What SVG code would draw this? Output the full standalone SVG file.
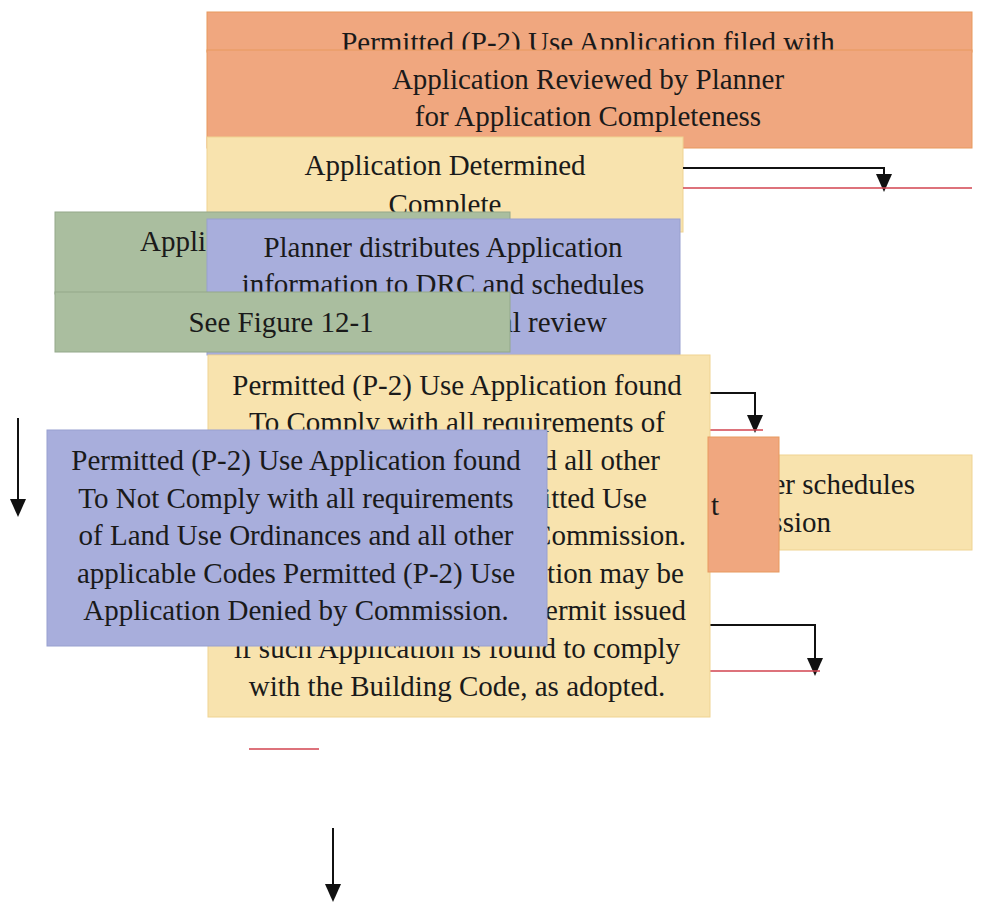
<svg xmlns="http://www.w3.org/2000/svg" width="981" height="909" viewBox="0 0 981 909">
<defs>
<marker id="ah" markerWidth="18" markerHeight="16" refX="15" refY="8" orient="auto" markerUnits="userSpaceOnUse" viewBox="0 0 18 16">
<path d="M0,0 L18,8 L0,16 Z" fill="#111"/>
</marker>
<style>
.t{font-family:"Liberation Serif","Times New Roman",serif;font-size:29px;fill:#1a1a1a}
.m{text-anchor:middle}
.e{text-anchor:end}
.or{fill:#f0a77f;stroke:#e8995f;stroke-width:1}
.ye{fill:#f8e3ae;stroke:#efd392;stroke-width:1}
.gr{fill:#aabe9f;stroke:#93a88a;stroke-width:1}
.bl{fill:#a8aedc;stroke:#98a0cf;stroke-width:1}
.ar{fill:none;stroke:#111;stroke-width:2}
.rd{fill:none;stroke:#d2434f;stroke-width:1.6}
</style>
</defs>
<rect width="981" height="909" fill="#fff"/>

<g id="n1-filed">
<rect class="or" x="207" y="12" width="765" height="40"/>
<text class="t m" x="588" y="52">Permitted (P-2) Use Application filed with</text>
</g>
<g id="n2-reviewed">
<rect class="or" x="207" y="50" width="765" height="98"/>
<text class="t m" x="588" y="89">Application Reviewed by Planner</text>
<text class="t m" x="588" y="126">for Application Completeness</text>
</g>
<g id="n3-complete">
<rect class="ye" x="207" y="137" width="476" height="95"/>
<text class="t m" x="445" y="175">Application Determined</text>
<text class="t m" x="445" y="214">Complete</text>
</g>

<g id="connectors">
<path class="ar" d="M683,168 H884 V189" marker-end="url(#ah)"/>
<line class="rd" x1="683" y1="188" x2="972" y2="188"/>
<path class="ar" d="M710,393 H755 V430" marker-end="url(#ah)"/>
<line class="rd" x1="710" y1="430" x2="763" y2="430"/>
<path class="ar" d="M710,625 H815 V673" marker-end="url(#ah)"/>
<line class="rd" x1="710" y1="671" x2="820" y2="671"/>
<line class="rd" x1="249" y1="749" x2="319" y2="749"/>
<line class="ar" x1="18" y1="418" x2="18" y2="514" marker-end="url(#ah)"/>
<line class="ar" x1="333" y1="828" x2="333" y2="899" marker-end="url(#ah)"/>
</g>

<g id="n4-green-appli">
<rect class="gr" x="55" y="212" width="455" height="82"/>
<text class="t" x="140" y="251">Appli</text>
</g>
<g id="n5-planner-distributes">
<rect class="bl" x="207" y="219" width="473" height="136"/>
<text class="t m" x="443" y="257">Planner distributes Application</text>
<text class="t m" x="443" y="294">information to DRC and schedules</text>
<text class="t e" x="607" y="332">al review</text>
</g>
<g id="n6-see-figure">
<rect class="gr" x="55" y="292" width="455" height="60"/>
<text class="t m" x="281" y="332">See Figure 12-1</text>
</g>
<g id="n7-comply">
<rect class="ye" x="208" y="355" width="502" height="362"/>
<text class="t m" x="457" y="395">Permitted (P-2) Use Application found</text>
<text class="t m" x="457" y="432">To Comply with all requirements of</text>
<text class="t e" x="660" y="470">nd all other</text>
<text class="t e" x="647" y="508">itted Use</text>
<text class="t e" x="686" y="545">Commission.</text>
<text class="t e" x="684" y="583">ation may be</text>
<text class="t e" x="686" y="620">Permit issued</text>
<text class="t m" x="457" y="658">if such Application is found to comply</text>
<text class="t m" x="457" y="696">with the Building Code, as adopted.</text>
</g>
<g id="n8-schedules">
<rect class="ye" x="779" y="455" width="193" height="95"/>
<text class="t e" x="915" y="494">ner schedules</text>
<text class="t e" x="831" y="532">mission</text>
</g>
<g id="n9-orange">
<rect class="or" x="708" y="437" width="71" height="135"/>
<text class="t" x="711" y="515">t</text>
</g>
<g id="n10-not-comply">
<rect class="bl" x="47" y="430" width="500" height="216"/>
<text class="t m" x="296" y="470">Permitted (P-2) Use Application found</text>
<text class="t m" x="296" y="508">To Not Comply with all requirements</text>
<text class="t m" x="296" y="545">of Land Use Ordinances and all other</text>
<text class="t m" x="296" y="583">applicable Codes Permitted (P-2) Use</text>
<text class="t m" x="296" y="620">Application Denied by Commission.</text>
</g>
</svg>
